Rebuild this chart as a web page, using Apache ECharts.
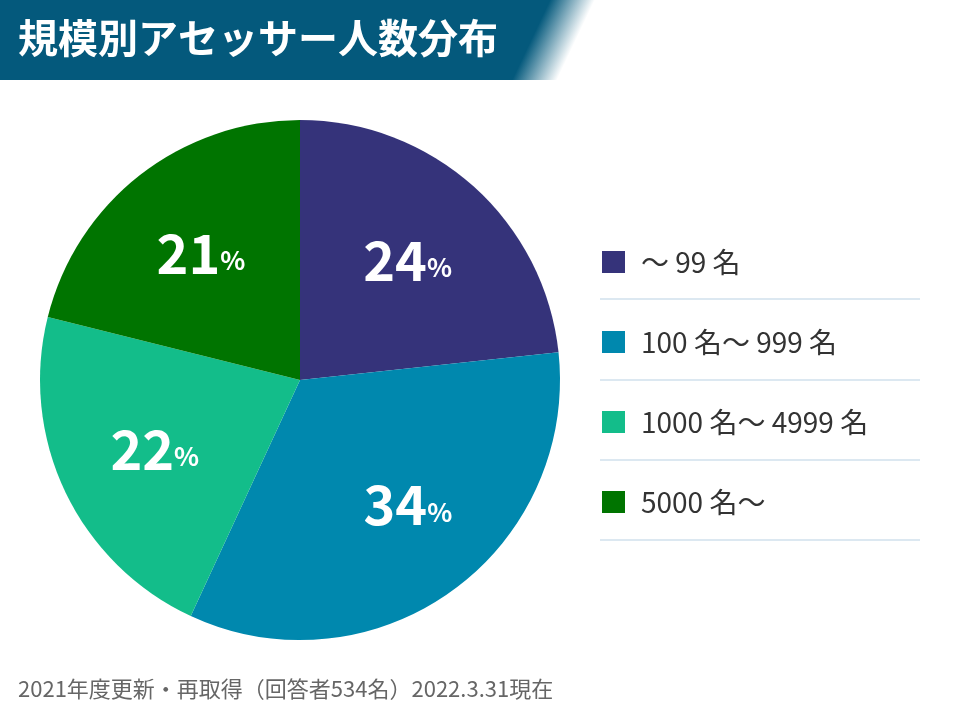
<!DOCTYPE html>
<html><head><meta charset="utf-8">
<script src="https://cdn.jsdelivr.net/npm/echarts@6/dist/echarts.min.js"></script>
<style>html,body{margin:0;padding:0;background:#fff}#c{width:960px;height:720px}</style>
</head><body><div id="c"></div>
<script>
const title = '規模別アセッサー人数分布';
const note = '2021年度更新・再取得（回答者534名）2022.3.31現在';
const categories = ['〜 99 名', '100 名〜 999 名', '1000 名〜 4999 名', '5000 名〜'];
// slice sizes
const shares = [23.3, 33.6, 22.0, 21.1];
// percentages printed on the slices
const labelPercents = [24, 34, 22, 21];
const colors = ['#35337a', '#0088ae', '#13bd8a', '#007400'];

const FONT = '"Noto Sans CJK JP", "Noto Sans", sans-serif';
const data = categories.map((n, i) => ({ name: n, value: shares[i], itemStyle: { color: colors[i] } }));
const labelOffsets = [[0, 0], [14, -6], [0, 0], [0, 0]];
const labelData = categories.map((n, i) => ({
  name: n, value: shares[i], pct: labelPercents[i],
  label: { offset: labelOffsets[i] }
}));

const chart = echarts.init(document.getElementById('c'), null, { renderer: 'canvas' });
const sepLines = [299, 380, 460, 540].map(y => ({
  type: 'line', shape: { x1: 600, y1: y, x2: 920, y2: y },
  style: { stroke: '#dce8f1', lineWidth: 2 }, silent: true
}));
chart.setOption({
  animation: false,
  backgroundColor: '#fff',
  color: colors,
  graphic: [
    { type: 'rect', shape: { x: 0, y: 0, width: 482, height: 80 }, style: { fill: '#04597c' }, silent: true },
    { type: 'polygon', shape: { points: [[480, 0], [595, 0], [557, 80], [480, 80]] },
      style: { fill: new echarts.graphic.LinearGradient(550, 0, 586.7, 17.4, [
        { offset: 0, color: 'rgba(4,89,124,1)' }, { offset: 1, color: 'rgba(4,89,124,0)' }], true) }, silent: true },
    { type: 'text', left: 18, top: 18, style: { text: title, fill: '#fff', font: 'bold 40px ' + FONT } },
    { type: 'text', left: 18, top: 678, style: { text: note, fill: '#666', font: '22px ' + FONT } }
  ].concat(sepLines),
  legend: {
    orient: 'vertical', left: 597, top: 243,
    data: categories,
    icon: 'rect', itemWidth: 23, itemHeight: 22, itemGap: 52,
    selectedMode: false,
    textStyle: { fontFamily: FONT, fontSize: 28, color: '#333', lineHeight: 24, padding: [0, 0, 0, 11] }
  },
  series: [
    {
      type: 'pie', center: [300, 380], radius: [0, 260], startAngle: 90, clockwise: true,
      data: data, label: { show: false }, labelLine: { show: false },
      emphasis: { disabled: true }, silent: true
    },
    {
      type: 'pie', center: [300, 380], radius: [56, 260], startAngle: 90, clockwise: true,
      data: labelData, itemStyle: { color: 'rgba(0,0,0,0)' }, silent: true, legendHoverLink: false,
      emphasis: { disabled: true }, labelLine: { show: false }, z: 5,
      label: {
        show: true, position: 'inside',
        formatter: p => '{n|' + p.data.pct + '}{p|%}',
        rich: {
          n: { fontFamily: FONT, fontSize: 54, fontWeight: 'bold', color: '#fff' },
          p: { fontFamily: FONT, fontSize: 26, fontWeight: 'bold', color: '#fff', padding: [14, 0, 0, 0] }
        }
      }
    }
  ]
});
</script></body></html>
